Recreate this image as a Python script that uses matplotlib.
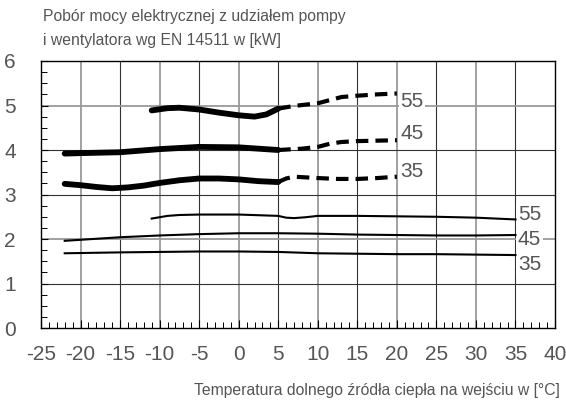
"""Power consumption chart (EN 14511) recreated with matplotlib."""
import matplotlib
matplotlib.use("Agg")
import matplotlib.pyplot as plt
from matplotlib.ticker import MultipleLocator

plt.rcParams["font.family"] = ["Liberation Sans", "DejaVu Sans"]

TEXT_COLOR = "#555555"

# heating curves (thick), supply temperature 55 / 45 / 35
t55_x = [-11, -9, -7.5, -5, -2.5, 0, 2, 3.5, 5]
t55_y = [4.89, 4.94, 4.95, 4.91, 4.84, 4.78, 4.75, 4.80, 4.93]
t55_dash_x = [5, 7, 10, 11.5, 13, 15, 17.5, 20]
t55_dash_y = [4.93, 4.99, 5.05, 5.12, 5.19, 5.22, 5.25, 5.27]

t45_x = [-22, -20, -15, -10, -5, 0, 5]
t45_y = [3.92, 3.93, 3.95, 4.02, 4.07, 4.06, 4.00]
t45_dash_x = [5, 8, 10, 11.5, 13, 15, 17.5, 20]
t45_dash_y = [4.00, 4.03, 4.07, 4.14, 4.18, 4.20, 4.21, 4.22]

t35_x = [-22, -20, -18, -16, -14, -12, -10, -7.5, -5, -2.5, 0, 2.5, 5]
t35_y = [3.24, 3.21, 3.17, 3.14, 3.16, 3.20, 3.26, 3.32, 3.36, 3.36, 3.34, 3.30, 3.28]
t35_dash_x = [5, 6, 7, 10, 12.5, 15, 17.5, 20]
t35_dash_y = [3.28, 3.36, 3.40, 3.37, 3.35, 3.35, 3.37, 3.40]

# thin curves
s55_x = [-11, -9, -7.5, -5, 0, 5, 6, 7, 8.5, 10, 15, 20, 25, 30, 35]
s55_y = [2.46, 2.52, 2.54, 2.55, 2.55, 2.52, 2.48, 2.47, 2.49, 2.52, 2.52, 2.51, 2.50, 2.48, 2.44]
s45_x = [-22, -15, -10, -5, 0, 5, 10, 15, 20, 25, 30, 35]
s45_y = [1.96, 2.04, 2.08, 2.11, 2.13, 2.13, 2.12, 2.10, 2.09, 2.08, 2.08, 2.09]
s35_x = [-22, -15, -10, -5, 0, 5, 10, 15, 20, 25, 30, 35]
s35_y = [1.68, 1.70, 1.71, 1.72, 1.72, 1.71, 1.68, 1.67, 1.66, 1.66, 1.65, 1.64]

curve_labels = ["55", "45", "35"]
thick_label_x = 20.4
thick_label_y = [5.10, 4.36, 3.51]
thin_label_x = 35.3
thin_label_y = [2.54, 1.98, 1.42]

x_ticks = list(range(-25, 41, 5))
y_ticks = list(range(0, 7))

fig = plt.figure(figsize=(5.66, 4.05), dpi=100, facecolor="white")
ax = fig.add_axes([0.0724, 0.19, 0.9082, 0.6594])

# grid: alternating dark / light lines like the reference
for x in range(-20, 40, 5):
    if x % 10 == 0:
        ax.axvline(x, color="#9a9a9a", lw=1.3, zorder=1)
    else:
        ax.axvline(x, color="#333333", lw=0.8, zorder=1)
for y in range(1, 6):
    if y in (2, 5):
        ax.axhline(y, color="#9a9a9a", lw=1.3, zorder=1)
    else:
        ax.axhline(y, color="#333333", lw=0.8, zorder=1)

thick = dict(color="black", lw=4.2, solid_capstyle="round", zorder=4)
dashed = dict(color="black", lw=3.0, linestyle=(0, (3.0, 1.7)), zorder=4)
thin = dict(color="black", lw=1.5, zorder=4)

for xs, ys, dx, dy in [(t55_x, t55_y, t55_dash_x, t55_dash_y),
                       (t45_x, t45_y, t45_dash_x, t45_dash_y),
                       (t35_x, t35_y, t35_dash_x, t35_dash_y)]:
    ax.plot(xs, ys, **thick)
    ax.plot(dx, dy, **dashed)

for xs, ys in [(s55_x, s55_y), (s45_x, s45_y), (s35_x, s35_y)]:
    ax.plot(xs, ys, **thin)

box = dict(facecolor="white", edgecolor="none", pad=1.0)
for lab, y in zip(curve_labels, thick_label_y):
    ax.text(thick_label_x, y, lab, ha="left", va="center", fontsize=15,
            color=TEXT_COLOR, bbox=box, zorder=3)
for lab, y in zip(curve_labels, thin_label_y):
    ax.text(thin_label_x, y, lab, ha="left", va="center", fontsize=15,
            color=TEXT_COLOR, bbox=box, zorder=3)

ax.set_xlim(-25, 40)
ax.set_ylim(0, 6)
ax.set_xticks(x_ticks)
ax.set_xticklabels([str(v) for v in x_ticks])
ax.set_yticks(y_ticks)
ax.xaxis.set_minor_locator(MultipleLocator(1))
ax.yaxis.set_minor_locator(MultipleLocator(0.25))
ax.tick_params(axis="x", which="major", direction="in", length=6, width=0.8,
               pad=12, labelsize=15, labelcolor=TEXT_COLOR)
ax.tick_params(axis="x", which="minor", direction="in", length=4, width=0.7)
ax.tick_params(axis="y", which="major", direction="in", length=5, width=0.8,
               pad=18, labelsize=15, labelcolor=TEXT_COLOR)
ax.tick_params(axis="y", which="minor", direction="in", length=4, width=0.7)

for spine in ax.spines.values():
    spine.set_color("black")
    spine.set_linewidth(1.0)
    spine.set_zorder(5)

fig.text(43 / 566, 1 - 17 / 405, "Pobór mocy elektrycznej z udziałem pompy",
         ha="left", va="center", fontsize=11.3, color=TEXT_COLOR)
fig.text(43 / 566, 1 - 40 / 405, "i wentylatora wg EN 14511 w [kW]",
         ha="left", va="center", fontsize=11.3, color=TEXT_COLOR)
fig.text(560 / 566, 1 - 390 / 405, "Temperatura dolnego źródła ciepła na wejściu w [°C]",
         ha="right", va="center", fontsize=11.3, color=TEXT_COLOR)

fig.savefig("out.png", dpi=100, facecolor="white")
